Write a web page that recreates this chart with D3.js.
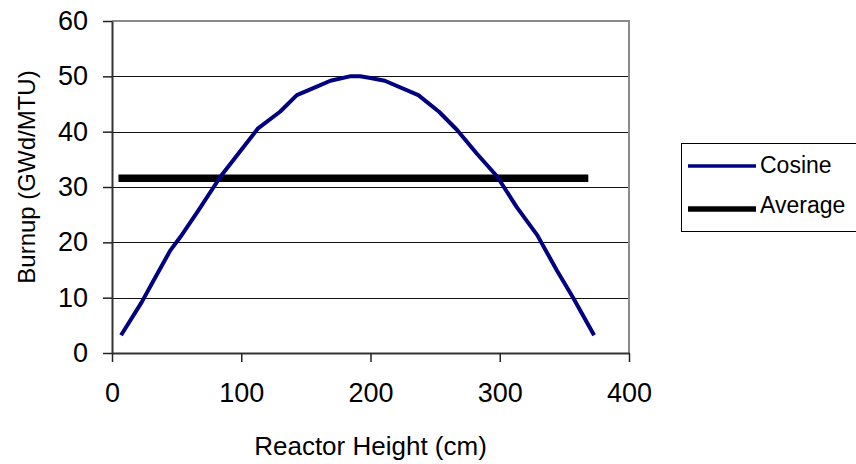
<!DOCTYPE html>
<html>
<head>
<meta charset="utf-8">
<script src="https://cdn.jsdelivr.net/npm/d3@7"></script>
<style>
  html, body { margin: 0; padding: 0; background: #fff; }
  svg { display: block; font-family: "Liberation Sans", Arial, sans-serif; }
</style>
</head>
<body>
<svg id="chart" width="856" height="464"></svg>
<script>
// ---- data ----
const cosineX = [7, 23, 31, 45, 53, 67, 84, 98, 113, 130, 143, 158, 169, 184, 192, 200, 211, 237, 253, 267, 282, 298, 313, 329, 344, 357, 373];
const cosineY = [3.2, 9.2, 12.6, 18.5, 21.0, 25.8, 31.9, 36.1, 40.6, 43.6, 46.6, 48.1, 49.2, 50.0, 50.0, 49.7, 49.2, 46.6, 43.6, 40.3, 36.1, 31.9, 26.4, 21.3, 15.0, 9.9, 3.2];
const averageX = [5, 368.5];
const averageY = [31.6, 31.6];
const xTicks = [0, 100, 200, 300, 400];
const yTicks = [0, 10, 20, 30, 40, 50, 60];
const seriesNames = ["Cosine", "Average"];
const xTitle = "Reactor Height (cm)";
const yTitle = "Burnup (GWd/MTU)";

const svg = d3.select("#chart");
const pLeft = 112, pRight = 629, pTop = 21, pBottom = 353;

const x = d3.scaleLinear().domain([0, 400]).range([pLeft, pRight]);
const y = d3.scaleLinear().domain([0, 60]).range([pBottom, pTop]);

// gridlines
svg.append("g").selectAll("line")
  .data(yTicks.filter(d => d > 0 && d < 60))
  .join("line")
  .attr("x1", pLeft).attr("x2", pRight)
  .attr("y1", d => Math.round(y(d)) + 0.5).attr("y2", d => Math.round(y(d)) + 0.5)
  .attr("stroke", "#111").attr("stroke-width", 1);

// plot border (top/right grey)
svg.append("line").attr("x1", pLeft).attr("x2", pRight + 1).attr("y1", pTop).attr("y2", pTop)
  .attr("stroke", "#8a8a8a").attr("stroke-width", 2);
svg.append("line").attr("x1", pRight).attr("x2", pRight).attr("y1", pTop).attr("y2", pBottom)
  .attr("stroke", "#8a8a8a").attr("stroke-width", 2);

// axes
const xAxis = d3.axisBottom(x).tickValues(xTicks).tickSize(9).tickPadding(21).tickSizeOuter(0);
const yAxis = d3.axisLeft(y).tickValues(yTicks).tickSize(9).tickPadding(15).tickSizeOuter(0);

const gx = svg.append("g").attr("transform", `translate(0,${pBottom})`).call(xAxis);
const gy = svg.append("g").attr("transform", `translate(${pLeft},0)`).call(yAxis);

[gx, gy].forEach(g => {
  g.select(".domain").attr("stroke", "#333").attr("stroke-width", 2);
  g.selectAll(".tick line").attr("stroke", "#222").attr("stroke-width", 1.5);
  g.selectAll(".tick text").attr("fill", "#000").style("font-size", "27px")
    .style("font-family", '"Liberation Sans", Arial, sans-serif');
});

// axis titles
svg.append("text").attr("x", (pLeft + pRight) / 2).attr("y", 455)
  .attr("text-anchor", "middle").style("font-size", "26px").attr("fill", "#000")
  .text(xTitle);
svg.append("text").attr("transform", `translate(35,${(pTop + pBottom) / 2 - 10}) rotate(-90)`)
  .attr("text-anchor", "middle").style("font-size", "24px").attr("fill", "#000")
  .text(yTitle);

// series
const line = d3.line().x(d => x(d[0])).y(d => y(d[1]));
const cosData = cosineX.map((v, i) => [v, cosineY[i]]);
const avgData = averageX.map((v, i) => [v, averageY[i]]);

svg.append("path").datum(avgData).attr("d", line)
  .attr("fill", "none").attr("stroke", "#000").attr("stroke-width", 7.5);
svg.append("path").datum(cosData).attr("d", line)
  .attr("fill", "none").attr("stroke", "#000080").attr("stroke-width", 4)
  .attr("stroke-linejoin", "round");

// legend
const lg = svg.append("g");
lg.append("rect").attr("x", 681.5).attr("y", 143.5).attr("width", 200).attr("height", 88)
  .attr("fill", "#fff").attr("stroke", "#000").attr("stroke-width", 1);
const legendItems = [
  { name: seriesNames[0], color: "#000080", w: 3.5, ly: 166, ty: 173 },
  { name: seriesNames[1], color: "#000", w: 5.5, ly: 209, ty: 213 }
];
legendItems.forEach(it => {
  lg.append("line").attr("x1", 688).attr("x2", 756).attr("y1", it.ly).attr("y2", it.ly)
    .attr("stroke", it.color).attr("stroke-width", it.w);
  lg.append("text").attr("x", 760).attr("y", it.ty).style("font-size", "23px")
    .attr("fill", "#000").text(it.name);
});
</script>
</body>
</html>
